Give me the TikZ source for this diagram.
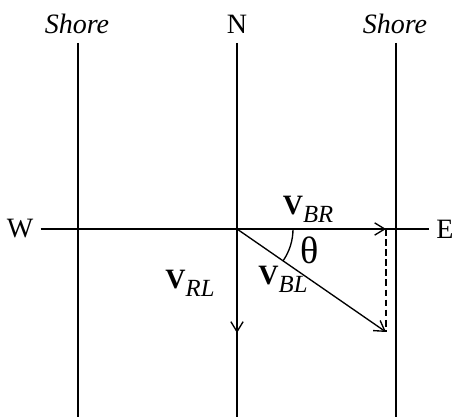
\documentclass[tikz,border=0pt]{standalone}
\usepackage{fontspec}
\setmainfont{Liberation Serif}
\usetikzlibrary{arrows.meta,calc}

\newcommand{\vlabel}[2]{\textbf{#1}{\fontsize{11}{13}\selectfont\raisebox{-3.5pt}{\textit{#2}}}}

\begin{document}
\begin{tikzpicture}[x=0.01567cm,y=0.01567cm,line width=0.6pt,font=\fontsize{12.5}{14}\selectfont,
  vec/.style={-{Straight Barb[length=4.5pt,width=5.5pt]}},
  lbl/.style={inner sep=3pt}]
\useasboundingbox (0,0) rectangle (457,417);
% labels round the compass
\node[lbl] (sl) at (77,393) {\textit{Shore}};
\node[lbl] (n) at (237,393) {N};
\node[lbl] (sr) at (395,393) {\textit{Shore}};
\node[lbl] (w) at (20,188) {W};
\node[lbl] (e) at (445,188) {E};
% line ends
\coordinate (sltop) at (78,374);
\coordinate (slbot) at (78,0);
\coordinate (ntop) at (237,374);
\coordinate (nbot) at (237,0);
\coordinate (srtop) at (396,374);
\coordinate (srbot) at (396,0);
\coordinate (o) at (237,188);
\coordinate (br) at (386,188);
\coordinate (bl) at (386,85);
\coordinate (rl) at (237,84);
\draw (sltop) -- (slbot);
\draw (ntop) -- (nbot);
\draw (srtop) -- (srbot);
\draw (w) -- (e);
% velocities
\draw[vec] (o) -- (br);
\draw[vec] (o) -- (rl);
\draw[vec] (o) -- (bl);
\draw[dash pattern=on 3pt off 1.5pt] (br) -- (bl);
\draw ($(o)+(56,0)$) arc[start angle=0,end angle=-34.7,radius=56];
\node (vbr) at (308,208) {\vlabel{V}{BR}};
\node (vbl) at (283,138) {\vlabel{V}{BL}};
\node (vrl) at (190,134) {\vlabel{V}{RL}};
\node (th) at (310,167) {\fontsize{17}{18}\selectfont θ};
\end{tikzpicture}
\end{document}
